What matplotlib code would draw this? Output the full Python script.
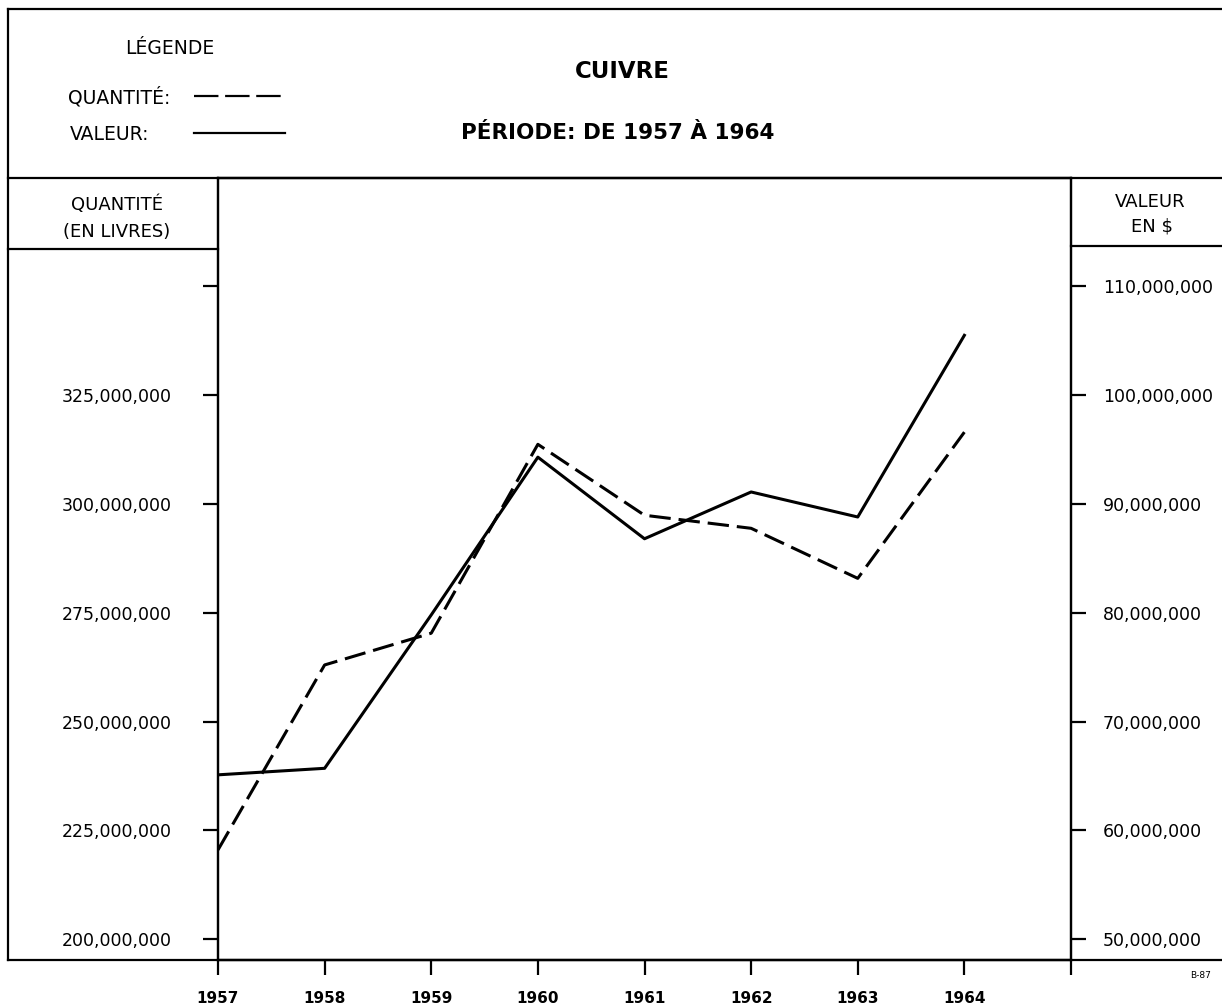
import matplotlib
matplotlib.use("Agg")
import matplotlib.pyplot as plt
from matplotlib.lines import Line2D

# données
annees = [1957, 1958, 1959, 1960, 1961, 1962, 1963, 1964]
quantite = [220.5e6, 263.0e6, 270.3e6, 313.7e6, 297.4e6, 294.4e6, 282.9e6, 316.5e6]  # livres
valeur = [65.1e6, 65.7e6, 79.8e6, 94.3e6, 86.8e6, 91.1e6, 88.8e6, 105.5e6]  # dollars

ticks_q = [200e6, 225e6, 250e6, 275e6, 300e6, 325e6, 350e6]
labels_q = ["200,000,000", "225,000,000", "250,000,000", "275,000,000",
            "300,000,000", "325,000,000", ""]
ticks_v = [50e6, 60e6, 70e6, 80e6, 90e6, 100e6, 110e6]
labels_v = ["50,000,000", "60,000,000", "70,000,000", "80,000,000",
            "90,000,000", "100,000,000", "110,000,000"]

W, H = 1222, 1007
fig = plt.figure(figsize=(W / 100, H / 100), dpi=100)


def fx(x):
    return x / W


def fy(y):
    return 1 - y / H


def trait(x0, y0, x1, y1, lw=1.6, **kw):
    fig.add_artist(Line2D([fx(x0), fx(x1)], [fy(y0), fy(y1)], color="k",
                          lw=lw, transform=fig.transFigure, **kw))


# axes principal
L, R, T, B = 218, 1071, 178, 960
ax = fig.add_axes([fx(L), fy(B), fx(R) - fx(L), fy(T) - fy(B)])
ax2 = ax.twinx()

ylo, yhi = 195.2e6, 374.9e6
ax.set_ylim(ylo, yhi)
ax2.set_ylim(50e6 + (ylo - 200e6) * 0.4, 50e6 + (yhi - 200e6) * 0.4)
ax.set_xlim(1957, 1964.97)

ax.plot(annees, quantite, color="k", lw=2.2, dashes=(7, 2.6))
ax2.plot(annees, valeur, color="k", lw=2.2)

for a in (ax, ax2):
    for s in a.spines.values():
        s.set_linewidth(1.6)

ax.set_xticks(annees + [1965])
ax.set_xticklabels([str(a) for a in annees] + [""])
ax.tick_params(axis="x", direction="out", length=11, width=1.6, pad=11,
               labelsize=11)
for t in ax.get_xticklabels():
    t.set_fontweight("bold")
ax2.tick_params(axis="x", bottom=False, top=True, direction="in", length=9,
                width=1.6, labelbottom=False, labeltop=False)

ax.set_yticks(ticks_q)
ax.set_yticklabels(labels_q)
ax.tick_params(axis="y", direction="out", length=11, width=1.6, pad=22,
               labelsize=12.5)
ax2.set_yticks(ticks_v)
ax2.set_yticklabels(labels_v)
ax2.tick_params(axis="y", direction="out", length=11, width=1.6, pad=12,
                labelsize=12.5)

# cadre et cases
trait(8, 9, W, 9)
trait(8, 9, 8, 960)
trait(8, 178, W, 178)
trait(8, 249, L, 249)
trait(R, 246, W, 246)
trait(8, 960, W, 960)

# en-tête
fig.text(fx(170), fy(48), "LÉGENDE", ha="center", va="center", fontsize=13.5)
fig.text(fx(68), fy(97), "QUANTITÉ:", ha="left", va="center", fontsize=13.5)
fig.text(fx(70), fy(135), "VALEUR:", ha="left", va="center", fontsize=13.5)
trait(194, 96, 285, 96, lw=1.6, dashes=(11, 3))
trait(194, 133, 285, 133, lw=1.6)
fig.text(fx(622), fy(72), "CUIVRE", ha="center", va="center", fontsize=16.5,
         fontweight="bold")
fig.text(fx(618), fy(133), "PÉRIODE: DE 1957 À 1964", ha="center",
         va="center", fontsize=15.5, fontweight="bold")

fig.text(fx(117), fy(205), "QUANTITÉ", ha="center", va="center", fontsize=13)
fig.text(fx(117), fy(232), "(EN LIVRES)", ha="center", va="center", fontsize=13)
fig.text(fx(1150), fy(202), "VALEUR", ha="center", va="center", fontsize=13)
fig.text(fx(1152), fy(227), "EN $", ha="center", va="center", fontsize=13)
fig.text(fx(1190), fy(975), "B-87", ha="left", va="center", fontsize=6.5)

fig.savefig("out.png", dpi=100)
